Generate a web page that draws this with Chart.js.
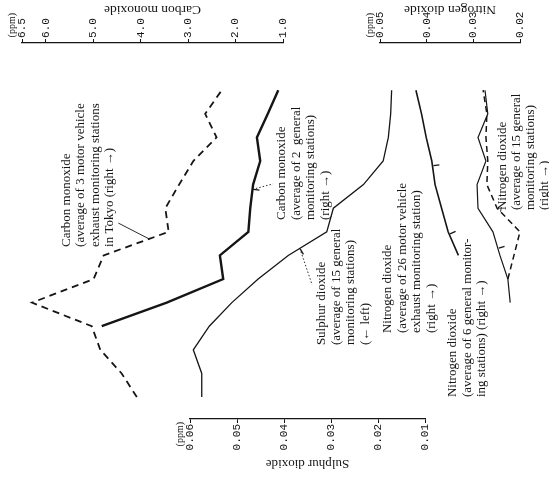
<!DOCTYPE html>
<html><head><meta charset="utf-8">
<script src="https://cdn.jsdelivr.net/npm/chart.js@4.4.1/dist/chart.umd.min.js"></script>
<style>html,body{margin:0;padding:0;background:#fff;}#wrap{width:549px;height:478px;position:relative;}</style>
</head><body><div id="wrap"><canvas id="c"></canvas></div>
<script>
// ---- data (years run bottom -> top in the rotated figure) ----
const years = [1965,1966,1967,1968,1969,1970,1971,1972,1973,1974,1975,1976,1977,1978];
const coVehicle   = [4.08,4.40,4.85,5.03,6.29,4.99,4.78,3.41,3.48,3.19,2.89,2.40,2.64,2.29];
const coGeneral   = [null,null,null,4.82,3.45,2.26,2.33,1.73,1.69,1.63,1.48,1.55,1.32,1.10];
const so2General  = [0.0575,0.0575,0.0593,0.0559,0.0511,0.0455,0.0391,0.0309,0.0295,0.0231,0.0189,0.0178,0.0173,0.0171];
const no2Vehicle  = [null,null,null,null,null,null,0.0332,0.0354,0.0368,0.0382,0.0389,0.0401,0.0411,0.0423];
const no2General6 = [null,null,null,null,0.0221,0.0226,0.0243,0.0258,0.0290,0.0292,0.0273,0.0290,0.0269,0.0275];
const no2General15= [null,null,null,null,null,0.0226,0.0213,0.0200,0.0249,0.0271,0.0269,0.0273,0.0271,0.0279];
const coTicks  = [6.5,6.0,5.0,4.0,3.0,2.0,1.0];
const no2Ticks = [0.05,0.04,0.03,0.02];
const so2Ticks = [0.06,0.05,0.04,0.03,0.02,0.01];
const unitLabel = '(ppm)';
const axisTitles = {co:'Carbon monoxide', no2:'Nitrogen dioxide', so2:'Sulphur dioxide'};

const SERIF = '"Liberation Serif","DejaVu Serif",serif';
const MONO  = '"Liberation Mono","DejaVu Sans Mono",monospace';
const INK = '#151515';

function series(vals){ return years.map((y,i)=>({x:vals[i], y:y})); }

// annotation texts, placed in data units (value on a scale, year)
const notes = [
  {lines:['Carbon monoxide','(average of 3 motor vehicle','exhaust monitoring stations','in Tokyo (right \u2192)'], scale:'co', v:5.57, year:1971.36, gap:14.5},
  {lines:['Carbon monoxide','(average of 2  general','monitoring stations)','(right \u2192)'], scale:'co', v:1.02, year:1972.5, gap:14.5},
  {lines:['Sulphur dioxide','(average of 15 general','monitoring stations)','(\u2190 left)'], scale:'so2', v:0.0319, year:1967.2, gap:14.5},
  {lines:['Nitrogen dioxide','(average of 26 motor vehicle','exhaust monitoring station)','(right \u2192)'], scale:'no2', v:0.0483, year:1967.71, gap:14.5},
  {lines:['Nitrogen dioxide','(average of 6 general monitor-','ing stations) (right \u2192)'], scale:'no2', v:0.0344, year:1965.0, gap:14.5},
  {lines:['Nitrogen dioxide','(average of 15 general','monitoring stations)','(right \u2192)'], scale:'no2', v:0.02364, year:1972.92, gap:14}
];
// leader lines: from a point along a dataset segment (year index i, fraction t) to a spot in data units
const leaders = [
  {ds:0, i:6, t:0.7, scale:'co', v:4.47, year:1972.37, dash:[]},
  {ds:1, i:8, t:0.8, scale:'co', v:1.21, year:1974.03, dash:[1.5,2]},
  {ds:2, i:6, t:0.3, scale:'so2', v:0.034, year:1969.75, dash:[1.5,2]},
  {ds:5, i:7, t:0.85, scale:'no2', v:0.0240, year:1973.05, dash:[]}
];
// short pointer ticks on lines
const pointers = [
  {ds:1, i:8, t:0.8}, {ds:2, i:6, t:0.3}, {ds:3, i:6, t:0.9}, {ds:3, i:9, t:0.8}, {ds:4, i:6, t:0.3}
];

const TOPH = 43, BOTH = 59, LH = 13.2;
function fitTop(s){ s.height = TOPH; s.paddingLeft = 0; s.paddingRight = 0; }
function fitBot(s){ s.height = BOTH; s.paddingLeft = 0; s.paddingRight = 0; }
function spacer(pos, weight, sw){
  return {type:'linear', axis:'x', position:pos, stack:pos, stackWeight:sw, weight:weight, min:0, max:1,
    ticks:{display:false}, grid:{display:false}, border:{display:false}, afterFit: pos==='top'?fitTop:fitBot};
}
function valueAxis(pos, weight, sw, min, max, tickVals, dec){
  return {type:'linear', axis:'x', position:pos, stack:pos, stackWeight:sw, weight:weight, min:min, max:max, reverse:true,
    afterBuildTicks: s => { s.ticks = tickVals.map(v=>({value:v})); },
    ticks:{autoSkip:false, minRotation:90, maxRotation:90, padding:1, color:INK, labelOffset: pos==='top'?LH:0,
      font:{family:MONO, size:11}, callback:(v)=> v.toFixed(dec)},
    grid:{drawOnChartArea:false, tickLength:4, color:INK, lineWidth:1},
    border:{display:true, color:INK, width:1.3},
    afterFit: pos==='top'?fitTop:fitBot};
}

const drawExtras = {
  id:'extras',
  afterDatasetsDraw(chart){
    const ctx = chart.ctx, yr = chart.scales.yr;
    const ptOn = (l) => {
      const d = chart.getDatasetMeta(l.ds).data;
      const a = d[l.i], b = d[l.i+1];
      return {x:a.x+(b.x-a.x)*l.t, y:a.y+(b.y-a.y)*l.t, dx:b.x-a.x, dy:b.y-a.y};
    };
    ctx.save();
    ctx.strokeStyle = INK; ctx.fillStyle = INK;
    leaders.forEach(l=>{
      const p = ptOn(l);
      ctx.beginPath(); ctx.setLineDash(l.dash); ctx.lineWidth = 0.9;
      ctx.moveTo(p.x,p.y); ctx.lineTo(chart.scales[l.scale].getPixelForValue(l.v), yr.getPixelForValue(l.year)); ctx.stroke();
    });
    ctx.setLineDash([]);
    pointers.forEach(l=>{
      const p = ptOn(l); const len = Math.hypot(p.dx,p.dy)||1;
      const nx = p.dy/len, ny = -p.dx/len;
      ctx.beginPath(); ctx.lineWidth = 1.3;
      ctx.moveTo(p.x - nx*1, p.y - ny*1); ctx.lineTo(p.x - nx*7, p.y - ny*7); ctx.stroke();
    });
    // annotation texts (rotated, reading bottom to top)
    ctx.font = '13px ' + SERIF; ctx.textAlign = 'left'; ctx.textBaseline = 'middle';
    notes.forEach(n=>{
      const x0 = chart.scales[n.scale].getPixelForValue(n.v), y0 = yr.getPixelForValue(n.year);
      n.lines.forEach((t,k)=>{
        ctx.save(); ctx.translate(x0 + k*n.gap, y0); ctx.rotate(-Math.PI/2); ctx.fillText(t,0,0); ctx.restore();
      });
    });
    // unit labels beside the first tick of each value axis
    ctx.font = '10px ' + SERIF;
    Object.keys(axisTitles).forEach(id=>{
      const s = chart.scales[id];
      const px = s.getPixelForValue(s.ticks[0].value) - 10;
      ctx.save();
      if (s.position==='top'){
        ctx.translate(px, s.top + 13); ctx.rotate(-Math.PI/2); ctx.textAlign='right';
      } else {
        ctx.translate(px, s.top + 3); ctx.rotate(-Math.PI/2); ctx.textAlign='right';
      }
      ctx.fillText(unitLabel,0,0); ctx.restore();
    });
    // axis titles (upside down)
    ctx.textAlign = 'center'; ctx.textBaseline = 'middle';
    Object.keys(axisTitles).forEach(id=>{
      const s = chart.scales[id];
      const cx = (s.left+s.right)/2;
      const top = s.position==='top';
      ctx.font = (top ? '13.5px ' : '13px ') + SERIF;
      const cy = top ? s.top + 9.5 : s.bottom - 15;
      ctx.save(); ctx.translate(cx, cy); ctx.rotate(Math.PI); ctx.fillText(axisTitles[id],0,0); ctx.restore();
    });
    ctx.restore();
  }
};

Chart.defaults.font.family = MONO;
new Chart(document.getElementById('c'), {
  type:'line',
  data:{datasets:[
    {label:'Carbon monoxide (3 motor vehicle exhaust stations, Tokyo)', data:series(coVehicle), xAxisID:'co', yAxisID:'yr', borderColor:INK, borderWidth:1.8, borderDash:[7,5]},
    {label:'Carbon monoxide (2 general stations)', data:series(coGeneral), xAxisID:'co', yAxisID:'yr', borderColor:INK, borderWidth:2.4},
    {label:'Sulphur dioxide (15 general stations)', data:series(so2General), xAxisID:'so2', yAxisID:'yr', borderColor:INK, borderWidth:1.3},
    {label:'Nitrogen dioxide (26 motor vehicle exhaust stations)', data:series(no2Vehicle), xAxisID:'no2', yAxisID:'yr', borderColor:INK, borderWidth:1.6},
    {label:'Nitrogen dioxide (6 general stations)', data:series(no2General6), xAxisID:'no2', yAxisID:'yr', borderColor:INK, borderWidth:1.2},
    {label:'Nitrogen dioxide (15 general stations)', data:series(no2General15), xAxisID:'no2', yAxisID:'yr', borderColor:INK, borderWidth:1.5, borderDash:[6,4]}
  ]},
  options:{
    indexAxis:'y', responsive:true, maintainAspectRatio:false, animation:false,
    layout:{padding:0},
    elements:{point:{radius:0}, line:{tension:0, fill:false}},
    plugins:{legend:{display:false}, tooltip:{enabled:false}, title:{display:false}},
    scales:{
      gT1: spacer('top',5,22),
      co: valueAxis('top',4,261,1,6.5,coTicks,1),
      gT2: spacer('top',3,97),
      no2: valueAxis('top',2,140,0.02,0.05,no2Ticks,2),
      gT3: spacer('top',1,29),
      gB1: spacer('bottom',1,190),
      so2: valueAxis('bottom',2,235,0.01,0.06,so2Ticks,2),
      gB2: spacer('bottom',3,124),
      yr: {type:'linear', axis:'y', position:'left', display:false, min:1964.07, max:1980}
    }
  },
  plugins:[drawExtras]
});
</script></body></html>
